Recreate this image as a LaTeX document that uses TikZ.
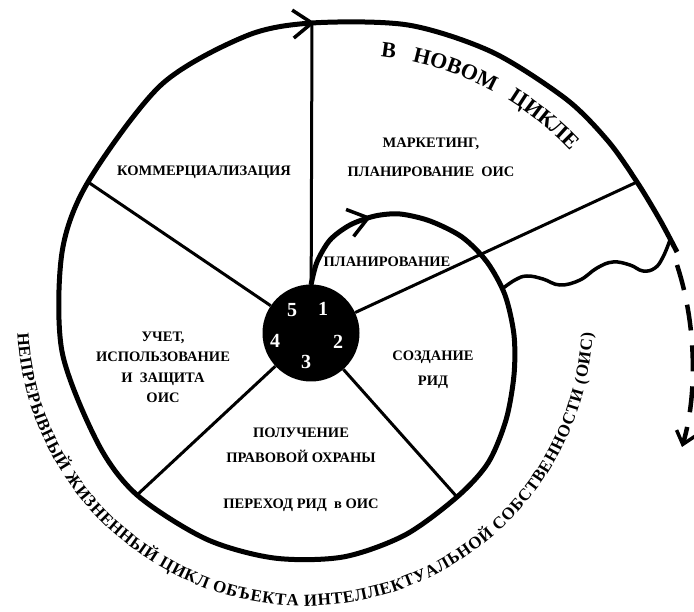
\documentclass[tikz,border=0pt]{standalone}
\usepackage{fontspec}
\setmainfont{Liberation Serif}
\usetikzlibrary{arrows.meta,decorations.markings,decorations.text}

\begin{document}
\begin{tikzpicture}[x=1pt, y=1pt,
		cycle tip/.tip={Straight Barb[length=19pt, width=28pt, line width=3.5pt]},
		spiral line/.style={line width=5pt},
		spoke/.style={line width=3pt},
		wave line/.style={line width=3.5pt},
		hub node/.style={circle, fill=black, minimum size=97pt, inner sep=0pt},
		stage/.style={font=\fontsize{14.5}{20.5}\selectfont\bfseries, align=center},
		digit/.style={text=white, font=\fontsize{20}{20}\selectfont\bfseries}]

		\useasboundingbox (0,0) rectangle (694,611);

		\node[hub node] (hub) at (311,278) {};
		\coordinate (inner) at (311,326);
		\coordinate (lr) at (457,114);
		\coordinate (ll) at (137,116);
		\coordinate (ul) at (88,429);
		\coordinate (top) at (312,588);
		\coordinate (ur) at (637,429);
		\coordinate (outer) at (677,359);
		\coordinate (w1) at (502,322);
		\coordinate (w2) at (670,371);
		\coordinate (dash start) at (677,346);
		\coordinate (dash end) at (682,164);

		\foreach \s in {top,ur,lr,ll,ul}
			\draw[spoke] (hub) -- (\s);

		\draw[spiral line, postaction={decorate, decoration={markings,
				mark=at position 97pt with {\arrow{cycle tip}},
				mark=at position 1468pt with {\arrow{cycle tip}}}}]
			plot[smooth] coordinates {(inner) (317,349) (330,371) (350,386) (375,395) (400,397)
				(430,390) (462,374) (487,349) (505,316) (514,276) (514,236) (506,191) (488,148) (lr)
				(405,76) (343,54) (274,53) (206,72) (ll) (98,167.5) (62,259.5) (62,358.5) (ul)
				(161,526) (246,575) (top) (408,586) (492,559) (566,512) (608,470) (ur) (660,391) (outer)};

		\draw[wave line] plot[smooth, tension=0.7] coordinates {(w1) (515,331) (527,335) (543,332)
			(560,326) (580,331) (597,343) (613,349) (630,346) (643,340) (655,343) (663,354) (w2)};

		\draw[line width=4.5pt, dash pattern=on 26pt off 15pt,
			-{Straight Barb[length=12pt, width=20pt, line width=3.5pt]}]
			(dash start) .. controls (697,285) and (697,215) .. (dash end);

		\node[digit] (d5) at (292,301) {5};
		\node[digit] (d1) at (323,302) {1};
		\node[digit] (d4) at (275,270) {4};
		\node[digit] (d2) at (338,269) {2};
		\node[digit] (d3) at (306,249) {3};

		\node[stage] (kom) at (204,439) {КОММЕРЦИАЛИЗАЦИЯ};
		\node[stage] (mkt) at (431,453.5) {МАРКЕТИНГ,\\[8.5pt] ПЛАНИРОВАНИЕ~ ОИС};
		\node[stage] (plan) at (387,349) {ПЛАНИРОВАНИЕ};
		\node[stage] (uchet) at (163,243.5) {УЧЕТ,\\ ИСПОЛЬЗОВАНИЕ\\ И~ ЗАЩИТА\\ ОИС};
		\node[stage] (rid) at (433,241.5) {СОЗДАНИЕ\\[4.5pt] РИД};
		\node[stage] (okhr) at (301,165.5) {ПОЛУЧЕНИЕ\\[4.5pt] ПРАВОВОЙ ОХРАНЫ};
		\node[stage] (perekhod) at (301,106) {ПЕРЕХОД РИД~ в ОИС};

		\path[decorate, decoration={text along path, text align={fit to path stretching spaces},
				text={|\fontsize{22}{22}\selectfont\bfseries|В НОВОМ ЦИКЛЕ}}]
			plot[domain=84:43, samples=40] ({349+303*cos(\x)}, {253+303*sin(\x)});

		\path[decorate, decoration={text along path, text align={fit to path},
				text={|\fontsize{17}{17}\selectfont\bfseries|НЕПРЕРЫВНЫЙ ЖИЗНЕННЫЙ ЦИКЛ ОБЪЕКТА ИНТЕЛЛЕКТУАЛЬНОЙ СОБСТВЕННОСТИ (ОИС)}}]
			plot[domain=183:357, samples=90] ({305+288*cos(\x)}, {293+288*sin(\x)});
\end{tikzpicture}
\end{document}
